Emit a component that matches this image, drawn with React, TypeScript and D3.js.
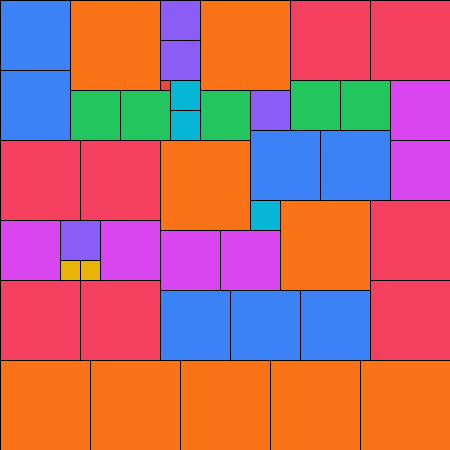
import React from "react";
import * as d3 from "d3";

// Partridge tiling of order 9: n squares of side n (units of 10px)
const sizes = [7, 7, 9, 4, 4, 1, 3, 3, 9, 8, 8, 5, 5, 5, 4, 5, 5, 6, 8, 8, 9, 7, 7, 6, 3, 9, 8, 6, 4, 2, 2, 6, 6, 6, 8, 8, 7, 7, 7, 8, 9, 9, 9, 9, 9];
const xs = [0, 0, 7, 16, 16, 16, 17, 17, 20, 29, 37, 7, 12, 20, 25, 29, 34, 39, 0, 8, 16, 25, 32, 39, 25, 28, 37, 0, 6, 6, 8, 10, 16, 22, 0, 8, 16, 23, 30, 37, 0, 9, 18, 27, 36];
const ys = [0, 7, 0, 0, 4, 8, 8, 11, 0, 0, 0, 9, 9, 9, 9, 8, 8, 8, 14, 14, 14, 13, 13, 14, 20, 20, 20, 22, 22, 26, 26, 22, 23, 23, 28, 28, 29, 29, 29, 28, 36, 36, 36, 36, 36];
const sizeKeys = [1, 2, 3, 4, 5, 6, 7, 8, 9];
const sizeColors = ["#ef4444", "#eab308", "#06b6d4", "#8b5cf6", "#22c55e", "#d946ef", "#3b82f6", "#f43f5e", "#f97316"];

export default function App() {
  const W = 450;
  const H = 450;
  const sx = d3.scaleLinear().domain([0, 45]).range([0, W]);
  const sy = d3.scaleLinear().domain([0, 45]).range([0, H]);
  const color = d3.scaleOrdinal<number, string>().domain(sizeKeys).range(sizeColors);
  return (
    <div style={{ position: "absolute", left: 0, top: 0 }}>
      <svg width={W} height={H} style={{ display: "block" }}>
        {sizes.map((s, i) => (
          <rect
            key={i}
            x={sx(xs[i])}
            y={sy(ys[i])}
            width={sx(s) - sx(0)}
            height={sy(s) - sy(0)}
            fill={color(s)}
            stroke="#000"
            strokeWidth={1}
            shapeRendering="crispEdges"
          />
        ))}
      </svg>
    </div>
  );
}
